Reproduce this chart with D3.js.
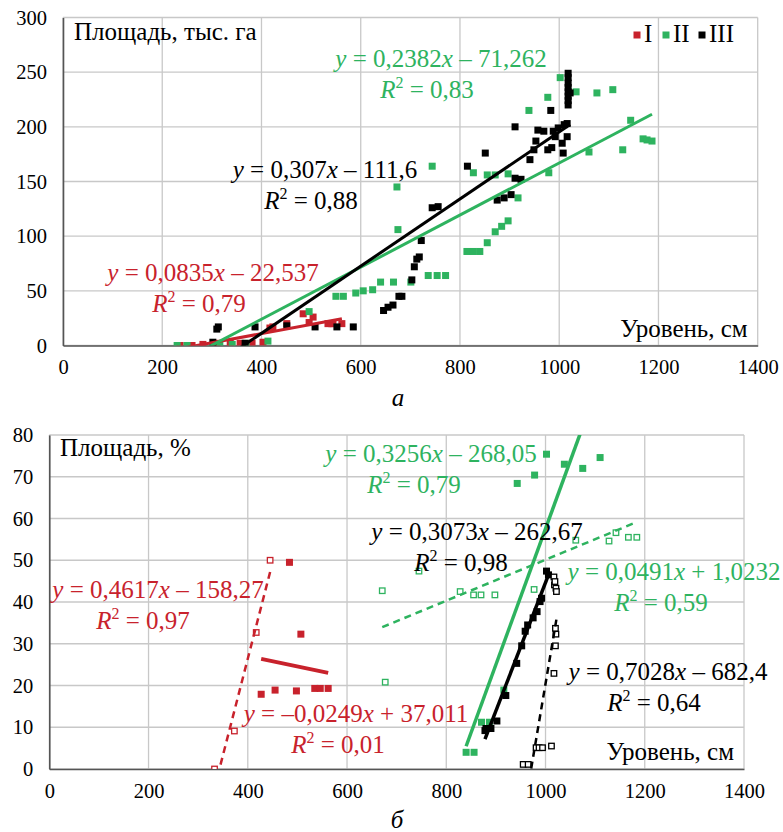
<!DOCTYPE html>
<html>
<head>
<meta charset="utf-8">
<script src="https://cdn.jsdelivr.net/npm/d3@7"></script>
<style>
body { margin: 0; background: #fff; }
svg, svg text, svg tspan { font-family: "Liberation Serif", "DejaVu Serif", serif !important; }
</style>
</head>
<body>
<div id="chart"></div>
<script>
'use strict';

// Colours used by the series
const RED = '#c8222c', GREEN = '#2eb35f', BLACK = '#000000';

// ---- panel а: area, thousand ha vs level, cm ----
const topRed = [[236,0],[260,0],[282,1],[310,2],[337,2],[357,2],[381,2],[403,3],[417,16],[423,17],[451,20],
    [484,29],[504,26],[496,21],[534,20],[541,20],[544,20],[562,20]];
const topGreen = [[230,0],[250,0],[316,0],[341,1],[369,2],[413,4],[496,31],[550,45],[565,45],[590,48],[605,50],
    [624,51],[640,58],[666,58],[701,58],[675,106],[673,145],[736,64],[754,64],[771,64],[744,164],[814,86],
    [827,86],[840,86],[855,94],[827,158],[855,156],[871,104],[884,109],[897,114],[871,156],[897,157],[917,135],
    [939,215],[977,227],[979,158],[1002,245],[1034,232],[1060,177],[1076,231],[1108,234],[1128,179],[1144,206],
    [1169,189],[1177,188],[1187,187]];
const topBlack = [[302,3],[310,15],[313,17],[367,2],[387,17],[451,18],[508,17],[552,17],[585,17],[646,32],
    [655,35],[665,37],[677,45],[683,45],[703,60],[708,72],[713,79],[718,81],[722,96],[744,126],[756,127],
    [815,164],[851,176],[875,133],[889,135],[903,138],[911,153],[923,152],[911,200],[941,170],[949,179],
    [953,187],[957,197],[969,196],[977,179],[983,215],[988,196],[985,181],[992,191],[998,199],[1006,185],
    [1008,176],[1010,202],[1016,191],[1016,203],[1018,220],[1018,224],[1018,228],[1018,232],[1018,236],
    [1018,240],[1018,245],[1018,249],[1022,231]];

// trend lines: slope, intercept, x range
const topTrends = [
    { k: 0.0835, b: -22.537, from: 236, to: 562, color: RED },
    { k: 0.2382, b: -71.262, from: 230, to: 1187, color: GREEN },
    { k: 0.307, b: -111.6, from: 302, to: 1022, color: BLACK }
];
const topLabels = [
    { eq: 'y = 0,2382x – 71,262', r2: 'R² = 0,83', color: GREEN, x: 441, r2x: 427, y: 67 },
    { eq: 'y = 0,307x – 111,6', r2: 'R² = 0,88', color: BLACK, x: 325, r2x: 311, y: 178 },
    { eq: 'y = 0,0835x – 22,537', r2: 'R² = 0,79', color: RED, x: 213, r2x: 199, y: 281 }
];
const legendNames = ['I', 'II', 'III'];
const topXTicks = [0, 200, 400, 600, 800, 1000, 1200, 1400];
const topYTicks = [0, 50, 100, 150, 200, 250, 300];

// ---- panel б: area, % vs level, cm ----
const botRedFill = [[484,49.5],[507,32.3],[427,17.9],[455,18.9],[498,18.7],[535,19.3],[546,19.3],[562,19.3]];
const botRedHollow = [[333,0],[373,9.1],[417,32.7],[445,50]];
const botGreenFill = [[840,4],[856,4],[871,11.2],[887,11.2],[916,18.9],[943,68.4],[978,70.4],[1002,75.4],
    [1038,73],[1075,72],[1110,74.6]];
const botGreenHollow = [[671,42.7],[677,20.8],[745,47.4],[828,42.5],[855,41.7],[870,41.7],[898,41.7],[977,43],
    [1061,54.8],[1128,54.6],[1142,56.6],[1167,55.5],[1184,55.5]];
const botBlackFill = [[878,9.2],[880,9.7],[890,9.7],[902,11.5],[920,17.6],[942,25.3],[952,29.5],[959,33],
    [964,34.5],[975,36.2],[983,37.7],[989,40.1],[992,40.9],[1002,47.4],[1006,46.5]];
const botBlackHollow = [[955,1.1],[965,1.1],[981,5.1],[987,5.1],[994,5.1],[1012,5.5],[1017,22.9],[1020,29.5],
    [1021,32.3],[1020,33.7],[1017,46],[1018,44.1],[1019,44.9],[1021,43.3],[1022,42.5]];

const botTrends = [
    { k: -0.0249, b: 37.011, from: 427, to: 562, color: RED, width: 4 },
    { k: 0.4617, b: -158.27, from: 333, to: 445, color: RED, dash: true },
    { k: 0.3256, b: -268.05, from: 840, to: 1110, color: GREEN, width: 3.5 },
    { k: 0.0491, b: 1.0232, from: 671, to: 1184, color: GREEN, dash: true },
    { k: 0.3073, b: -262.67, from: 878, to: 1006, color: BLACK, width: 3.5 },
    { k: 0.7028, b: -682.4, from: 955, to: 1022, color: BLACK, dash: true }
];
const botLabels = [
    { eq: 'y = 0,3256x – 268,05', r2: 'R² = 0,79', color: GREEN, x: 431, r2x: 414, y: 462 },
    { eq: 'y = 0,3073x – 262,67', r2: 'R² = 0,98', color: BLACK, x: 477, r2x: 461, y: 540 },
    { eq: 'y = 0,0491x + 1,0232', r2: 'R² = 0,59', color: GREEN, x: 674, r2x: 661, y: 580 },
    { eq: 'y = 0,4617x – 158,27', r2: 'R² = 0,97', color: RED, x: 158, r2x: 143, y: 598 },
    { eq: 'y = –0,0249x + 37,011', r2: 'R² = 0,01', color: RED, x: 356, r2x: 338, y: 722 },
    { eq: 'y = 0,7028x – 682,4', r2: 'R² = 0,64', color: BLACK, x: 668, r2x: 654, y: 680 }
];
const botXTicks = [0, 200, 400, 600, 800, 1000, 1200, 1400];
const botYTicks = [0, 10, 20, 30, 40, 50, 60, 70, 80];

const svg = d3.select('#chart').append('svg')
    .attr('width', 783)
    .attr('height', 832)
    .attr('font-family', '"Liberation Serif", serif');

// Write an equation with italic variables and a superscript 2
function eqText(sel, str) {
    let parts = str.match(/[xyR]|²|[^xyR²]+/g);
    let raised = false;
    parts.forEach(p => {
        let t = sel.append('tspan');
        if (p === '²') {
            t.text('2').attr('font-size', 16).attr('dy', -10);
            raised = true;
            return;
        }
        if (raised) { t.attr('dy', 10); raised = false; }
        t.text(p);
        if (p === 'x' || p === 'y' || p === 'R') t.attr('font-style', 'italic');
    });
}

function drawPanel(cfg) {
    let x = d3.scaleLinear().domain([0, 1400]).range([cfg.left, cfg.right]);
    let y = d3.scaleLinear().domain([0, cfg.yMax]).range([cfg.bottom, cfg.top]);
    let g = svg.append('g');

    // grid
    g.append('g')
        .selectAll('line.vg').data(cfg.xTicks).join('line')
        .attr('x1', d => x(d)).attr('x2', d => x(d))
        .attr('y1', cfg.top).attr('y2', cfg.bottom)
        .attr('stroke', '#c8c8c8').attr('stroke-width', 1.3);
    g.append('g')
        .selectAll('line.hg').data(cfg.yTicks).join('line')
        .attr('x1', cfg.left).attr('x2', cfg.right)
        .attr('y1', d => y(d)).attr('y2', d => y(d))
        .attr('stroke', '#c8c8c8').attr('stroke-width', 1.3);

    // axes
    let fmt = d3.format('d');
    let axX = g.append('g')
        .attr('transform', `translate(0, ${cfg.bottom})`)
        .call(d3.axisBottom(x).tickValues(cfg.xTicks).tickFormat(fmt).tickSize(0).tickPadding(14));
    let axY = g.append('g')
        .attr('transform', `translate(${cfg.left}, 0)`)
        .call(d3.axisLeft(y).tickValues(cfg.yTicks).tickFormat(fmt).tickSize(0).tickPadding(cfg.yPad));
    [axX, axY].forEach(a => {
        a.attr('font-family', null).attr('font-size', null);
        a.select('.domain').attr('stroke', '#555').attr('stroke-width', 1.6);
        a.selectAll('text').attr('font-size', 20.5).attr('fill', '#000');
    });

    // clip trend lines and points to the plot area
    let clipId = 'clip-' + cfg.key;
    svg.append('clipPath').attr('id', clipId).append('rect')
        .attr('x', cfg.left).attr('y', cfg.top)
        .attr('width', cfg.right - cfg.left).attr('height', cfg.bottom - cfg.top);
    let plot = g.append('g').attr('clip-path', `url(#${clipId})`);

    cfg.series.forEach(s => {
        let sz = s.hollow ? 5.5 : s.size;
        plot.append('g').selectAll('rect').data(s.points).join('rect')
            .attr('x', d => x(d[0]) - sz / 2)
            .attr('y', d => y(d[1]) - sz / 2)
            .attr('width', sz).attr('height', sz)
            .attr('fill', s.hollow ? '#fff' : s.color)
            .attr('stroke', s.hollow ? s.color : 'none')
            .attr('stroke-width', 1.3);
    });

    let line = d3.line().x(d => x(d[0])).y(d => y(d[1]));
    cfg.trends.forEach(t => {
        plot.append('path')
            .attr('d', line([[t.from, t.k * t.from + t.b], [t.to, t.k * t.to + t.b]]))
            .attr('fill', 'none')
            .attr('stroke', t.color)
            .attr('stroke-width', t.dash ? 2.5 : (t.width || 3))
            .attr('stroke-dasharray', t.dash ? '7,5' : null);
    });

    // titles
    g.append('text').attr('x', cfg.yTitleX).attr('y', cfg.yTitleY)
        .attr('font-size', 25).text(cfg.yTitle);
    g.append('text').attr('x', cfg.right - 10).attr('y', cfg.bottom - 9)
        .attr('text-anchor', 'end').attr('font-size', 25).text('Уровень, см');
    g.append('text').attr('x', cfg.tagX).attr('y', cfg.tagY)
        .attr('text-anchor', 'middle').attr('font-size', 25).attr('font-style', 'italic')
        .text(cfg.tag);

    // trend line equations
    cfg.labels.forEach(l => {
        let t1 = g.append('text').attr('x', l.x).attr('y', l.y)
            .attr('text-anchor', 'middle').attr('font-size', 25).attr('fill', l.color);
        eqText(t1, l.eq);
        let t2 = g.append('text').attr('x', l.r2x).attr('y', l.y + 31)
            .attr('text-anchor', 'middle').attr('font-size', 25).attr('fill', l.color);
        eqText(t2, l.r2);
    });

    return { x, y, g };
}

let panelA = drawPanel({
    key: 'a', tag: 'а', tagX: 398, tagY: 406,
    left: 63, right: 757.7, top: 17.5, bottom: 345.5, yMax: 300, yPad: 16,
    xTicks: topXTicks, yTicks: topYTicks,
    yTitle: 'Площадь, тыс. га', yTitleX: 74, yTitleY: 40,
    series: [
        { points: topRed, color: RED, size: 7 },
        { points: topGreen, color: GREEN, size: 7 },
        { points: topBlack, color: BLACK, size: 7 }
    ],
    trends: topTrends,
    labels: topLabels
});

// legend of panel а
let legendColors = [RED, GREEN, BLACK];
let legendX = [637, 666, 702];
let legend = panelA.g.append('g');
legendNames.forEach((n, i) => {
    legend.append('rect')
        .attr('x', legendX[i] - 3.5).attr('y', 31.5)
        .attr('width', 7).attr('height', 7)
        .attr('fill', legendColors[i]);
    legend.append('text')
        .attr('x', legendX[i] + 7).attr('y', 42)
        .attr('font-size', 25).text(n);
});

drawPanel({
    key: 'b', tag: 'б', tagX: 397, tagY: 828,
    left: 49.3, right: 744, top: 435, bottom: 769, yMax: 80, yPad: 16,
    xTicks: botXTicks, yTicks: botYTicks,
    yTitle: 'Площадь, %', yTitleX: 60, yTitleY: 456,
    series: [
        { points: botRedFill, color: RED, size: 7 },
        { points: botRedHollow, color: RED, hollow: true },
        { points: botGreenFill, color: GREEN, size: 7 },
        { points: botGreenHollow, color: GREEN, hollow: true },
        { points: botBlackFill, color: BLACK, size: 7 },
        { points: botBlackHollow, color: BLACK, hollow: true }
    ],
    trends: botTrends,
    labels: botLabels
});
</script>
</body>
</html>
